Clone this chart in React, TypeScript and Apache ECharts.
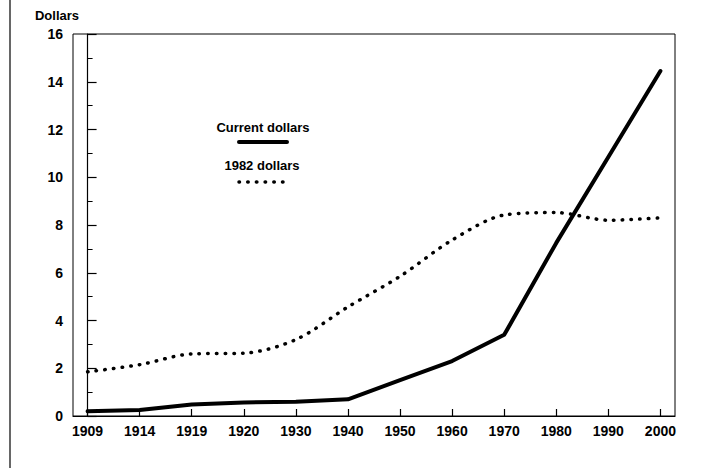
import React, { useEffect, useRef } from "react";
import * as echarts from "echarts";

const years = ["1909", "1914", "1919", "1920", "1930", "1940", "1950", "1960", "1970", "1980", "1990", "2000"];
const currentDollars = [0.2, 0.25, 0.48, 0.57, 0.6, 0.7, 1.5, 2.3, 3.4, 7.25, 10.85, 14.45];
const dollars1982 = [1.85, 2.15, 2.6, 2.63, 3.2, 4.57, 5.85, 7.37, 8.42, 8.52, 8.2, 8.3];
const yTicks = { min: 0, max: 16, interval: 2 };

const FONT = "Liberation Sans, Arial, Helvetica, sans-serif";

export default function App() {
  const ref = useRef<HTMLDivElement>(null);
  useEffect(() => {
    document.body.style.margin = "0";
    if (!ref.current) return;
    const chart = echarts.init(ref.current, null, { renderer: "svg" });
    const idx = years.map((_, i) => i);
    chart.setOption({
      animation: false,
      backgroundColor: "#fff",
      grid: {
        left: 73,
        right: 42,
        top: 34,
        bottom: 52,
        show: true,
        borderColor: "#000",
        borderWidth: 1,
      },
      xAxis: {
        type: "value",
        min: -0.28,
        max: 11.28,
        axisLine: { show: true, lineStyle: { color: "#000", width: 1.2 } },
        axisTick: { show: true, inside: true, length: 7, customValues: idx, lineStyle: { color: "#000", width: 1.2 } },
        axisLabel: {
          customValues: idx,
          formatter: (v: number) => years[Math.round(v)] ?? "",
          color: "#000",
          fontFamily: FONT,
          fontWeight: "bold",
          fontSize: 14,
          margin: 8,
        },
        splitLine: { show: false },
      },
      yAxis: {
        type: "value",
        min: yTicks.min,
        max: yTicks.max,
        interval: yTicks.interval,
        axisLine: { show: true, lineStyle: { color: "#000", width: 1.2 } },
        axisTick: { show: true, inside: true, length: 9, lineStyle: { color: "#000", width: 1.2 } },
        minorTick: { show: true, splitNumber: 2, length: 5, lineStyle: { color: "#000", width: 1 } },
        axisLabel: {
          color: "#000",
          fontFamily: FONT,
          fontWeight: "bold",
          fontSize: 14,
          margin: 10,
        },
        splitLine: { show: false },
      },
      graphic: [
        { type: "line", shape: { x1: 10, y1: 0, x2: 10, y2: 468 }, style: { stroke: "#000", lineWidth: 1.2 } },
        {
          type: "text",
          x: 57,
          y: 15,
          style: { text: "Dollars", fill: "#000", font: `bold 13px ${FONT}`, textAlign: "center", textVerticalAlign: "middle" },
        },
        {
          type: "text",
          x: 263,
          y: 127,
          style: { text: "Current dollars", fill: "#000", font: `bold 13px ${FONT}`, textAlign: "center", textVerticalAlign: "middle" },
        },
        { type: "line", shape: { x1: 239, y1: 142, x2: 287, y2: 142 }, style: { stroke: "#000", lineWidth: 4, lineCap: "round" } },
        {
          type: "text",
          x: 262,
          y: 165,
          style: { text: "1982 dollars", fill: "#000", font: `bold 13px ${FONT}`, textAlign: "center", textVerticalAlign: "middle" },
        },
        {
          type: "line",
          shape: { x1: 239, y1: 182, x2: 283, y2: 182 },
          style: { stroke: "#000", lineWidth: 3.5, lineCap: "round", lineDash: [0.5, 8.2] },
        },
      ],
      series: [
        {
          name: "Current dollars",
          type: "line",
          data: currentDollars.map((v, i) => [i, v]),
          showSymbol: false,
          lineStyle: { color: "#000", width: 4, cap: "round", join: "round" },
          z: 3,
        },
        {
          name: "1982 dollars",
          type: "line",
          data: dollars1982.map((v, i) => [i, v]),
          showSymbol: false,
          smooth: 0.3,
          lineStyle: { color: "#000", width: 3.5, type: [0.5, 8.2], cap: "round" },
          z: 2,
        },
      ],
    });
    return () => chart.dispose();
  }, []);
  return <div ref={ref} style={{ width: 717, height: 468 }} />;
}
